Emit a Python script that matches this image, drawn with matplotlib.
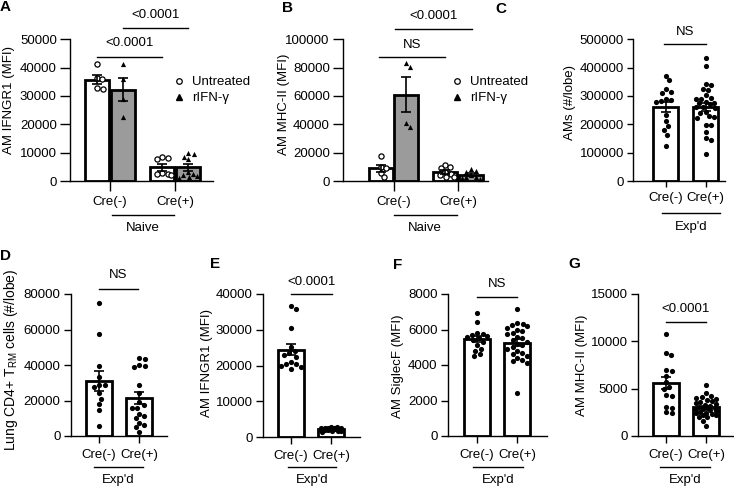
import numpy as np
import matplotlib
matplotlib.use("Agg")
import matplotlib.pyplot as plt
from matplotlib.lines import Line2D
from matplotlib.transforms import blended_transform_factory

plt.rcParams["font.family"] = ["Liberation Sans", "DejaVu Sans"]
plt.rcParams["mathtext.fontset"] = "custom"
plt.rcParams["mathtext.rm"] = "Liberation Sans"
plt.rcParams["font.size"] = 9.5

# ---- data (mean +/- SEM computed from the points) ----
groups = ["Cre(-)", "Cre(+)"]

a_neg_untreated = [41200, 36500, 36000, 32700, 32500]
a_neg_rifn = [41200, 36000, 28800, 22700]
a_pos_untreated = [8300, 8200, 7800, 2800, 2500, 2300, 2000]
a_pos_rifn = [9800, 9500, 8600, 7600, 3000, 2500, 2200, 1800, 1500, 1200]

b_neg_untreated = [17500, 10000, 9500, 5500, 2500]
b_neg_rifn = [83500, 80500, 41000, 38000]
b_pos_untreated = [11500, 10000, 9000, 6000, 5000, 4000, 3000, 2500]
b_pos_rifn = [8500, 7000, 6500, 4000, 3000, 2500, 2000, 1500]

c_neg = [372000, 357000, 324000, 315000, 309000, 290000, 285000, 282000,
         280000, 233000, 213000, 195000, 180000, 162000, 125000]
c_pos = [433000, 407000, 341000, 338000, 324000, 320000, 302000, 292000,
         290000, 288000, 278000, 276000, 274000, 272000, 262000, 260000,
         258000, 245000, 240000, 228000, 226000, 224000, 198000, 196000,
         174000, 150000, 146000, 95000]

d_neg = [75000, 57500, 39500, 33000, 29000, 28500, 27500, 24000, 21000,
         18000, 14500, 5500]
d_pos = [44000, 43500, 40000, 39500, 39000, 28500, 24000, 19000, 17500,
         16000, 15500, 12500, 11000, 10000, 7500, 6000, 5000, 2500]

e_neg = [36600, 35700, 30500, 25200, 24000, 23500, 23000, 22500, 21000,
         20500, 20300, 20000, 19500, 19000]
e_pos = [2800, 2700, 2600, 2500, 2500, 2400, 2400, 2300, 2300, 2200, 2200,
         2100, 2100, 2000, 2000, 1900, 1800, 1700, 1600, 1500]

f_neg = [6950, 6400, 5800, 5750, 5700, 5650, 5600, 5500, 5400, 5300, 5100,
         4900, 4800, 4600, 4500]
f_pos = [7150, 6350, 6300, 6250, 6200, 6100, 6000, 5900, 5800, 5750, 5600,
         5500, 5400, 5300, 5200, 5100, 5000, 4900, 4800, 4700, 4600, 4500,
         4400, 4300, 4200, 4100, 2400]

g_neg = [10800, 8800, 8600, 7000, 6900, 6300, 5700, 5200, 5000, 4300, 4200,
         3100, 3000, 2500, 2400]
g_pos = [5400, 4500, 4200, 4100, 4000, 3900, 3800, 3700, 3600, 3500, 3400,
         3300, 3200, 3100, 3000, 3000, 2900, 2800, 2700, 2600, 2500, 2400,
         2300, 2200, 2000, 2400, 2200, 2000, 1600, 1100]

W, H = 734, 487
fig = plt.figure(figsize=(W / 100, H / 100), dpi=100)
GRAY = "#9b9b9b"


def make_axes(left, right, top, bottom, c0, c1, ymax, ystep, tick_len, xpad):
    ax = fig.add_axes([left / W, 1 - bottom / H, (right - left) / W, (bottom - top) / H])
    unit = c1 - c0
    ax.set_xlim((left - c0) / unit, (right - c0) / unit)
    ax.set_ylim(0, ymax)
    ticks = np.arange(0, ymax + 1, ystep)
    ax.set_yticks(ticks)
    ax.set_yticklabels([str(int(t)) for t in ticks])
    ax.set_xticks([0, 1])
    ax.set_xticklabels(groups)
    for s in ["top", "right"]:
        ax.spines[s].set_visible(False)
    for s in ["left", "bottom"]:
        ax.spines[s].set_linewidth(1.0)
    ax.tick_params(axis="both", direction="out", length=tick_len, width=1.0,
                   labelsize=9.5, pad=2.5)
    ax.tick_params(axis="x", pad=xpad)
    ax._xpx = unit
    ax._ypx = (bottom - top) / ymax
    return ax


def swarm(values, ypx, xpx, lim, d=5.6):
    # simple bounded beeswarm, worked out in pixels
    ys = np.asarray(values, dtype=float) * ypx
    order = np.argsort(-ys)
    placed = []
    offs = np.zeros(len(ys))
    for i in order:
        y = ys[i]
        cands = [0.0]
        for xj, yj in placed:
            dy = abs(y - yj)
            if dy < d:
                dx = np.sqrt(d * d - dy * dy)
                cands += [xj + dx, xj - dx]
        cands = sorted([c for c in cands if abs(c) <= lim], key=abs)
        chosen = None
        for c in cands:
            if all((c - xj) ** 2 + (y - yj) ** 2 >= d * d - 1e-6 for xj, yj in placed):
                chosen = c
                break
        if chosen is None:
            grid = np.linspace(-lim, lim, 15)
            score = [min((g - xj) ** 2 + (y - yj) ** 2 for xj, yj in placed) for g in grid]
            chosen = grid[int(np.argmax(score))]
        offs[i] = chosen
        placed.append((chosen, y))
    return offs / xpx


def bar_group(ax, pos, vals, color, width_px, marker, open_marker=False):
    vals = np.asarray(vals, dtype=float)
    m = vals.mean()
    sem = vals.std(ddof=1) / np.sqrt(len(vals))
    w = width_px / ax._xpx
    ax.bar(pos, m, w, color=color, edgecolor="black", linewidth=2.0, zorder=2)
    xs = pos + swarm(vals, ax._ypx, ax._xpx, width_px / 2 - 3)
    if open_marker:
        ax.scatter(xs, vals, s=14, marker=marker, facecolor="white",
                   edgecolor="black", linewidth=0.9, zorder=3, clip_on=False)
    else:
        ax.scatter(xs, vals, s=14, marker=marker, color="black",
                   linewidth=0, zorder=3, clip_on=False)
    ax.errorbar(pos, m, yerr=sem, color="black", elinewidth=1.2, capsize=3.5,
                capthick=1.2, zorder=4, fmt="none")


def sig(ax, x1, x2, y_line, y_text, label):
    ax.plot([x1, x2], [y_line, y_line], color="black", lw=1.0, clip_on=False)
    ax.text((x1 + x2) / 2, y_text, label, ha="center", va="center", fontsize=9.5)


def group_label(ax, x1, x2, y_line_px, y_text_px, label):
    tr = blended_transform_factory(ax.transData, fig.transFigure)
    ax.plot([x1, x2], [1 - y_line_px / H] * 2, color="black", lw=1.0,
            transform=tr, clip_on=False)
    ax.text((x1 + x2) / 2, 1 - y_text_px / H, label, transform=tr,
            ha="center", va="center", fontsize=9.5)


def ylabel(x_px, y_px, label, size=9.5):
    fig.text(x_px / W, 1 - y_px / H, label, rotation=90, ha="center",
             va="center", fontsize=size)


def letter(x_px, y_px, label):
    fig.text(x_px / W, 1 - y_px / H, label, ha="left", va="center",
             fontsize=11, fontweight="bold")


legend_handles = [
    Line2D([], [], ls="", marker="o", mfc="white", mec="black", mew=0.9, ms=4),
    Line2D([], [], ls="", marker="^", color="black", ms=4),
]
legend_labels = ["Untreated", "rIFN-\u03b3"]


def legend_at(x_px, y_px):
    fig.legend(legend_handles, legend_labels, loc="upper left",
               bbox_to_anchor=(x_px / W, 1 - y_px / H), frameon=False,
               handlelength=1.0, handletextpad=0.55, labelspacing=0.28,
               borderpad=0, borderaxespad=0, fontsize=9.5)


# ---- A ----
ax = make_axes(70, 213, 39.3, 181, 110, 175, 50000, 10000, 7, 4)
bar_group(ax, -0.2, a_neg_untreated, "white", 24, "o", True)
bar_group(ax, 0.2, a_neg_rifn, GRAY, 24, "^")
bar_group(ax, 0.8, a_pos_untreated, "white", 24, "o", True)
bar_group(ax, 1.2, a_pos_rifn, GRAY, 24, "^")
sig(ax, -0.2, 0.8, 43900, 48700, "<0.0001")
sig(ax, 0.2, 1.2, 54100, 58600, "<0.0001")
group_label(ax, 0.03, 0.98, 215, 228, "Naive")
legend_at(172, 76)
ylabel(9, 100, "AM IFNGR1 (MFI)")
letter(0, 7, "A")

# ---- B ----
ax = make_axes(343, 488, 39.3, 181, 393.5, 458, 100000, 20000, 7, 4)
bar_group(ax, -0.2, b_neg_untreated, "white", 24, "o", True)
bar_group(ax, 0.2, b_neg_rifn, GRAY, 24, "^")
bar_group(ax, 0.8, b_pos_untreated, "white", 24, "o", True)
bar_group(ax, 1.2, b_pos_rifn, GRAY, 24, "^")
sig(ax, -0.22, 0.8, 87500, 96000, "NS")
sig(ax, 0.02, 1.22, 107300, 116500, "<0.0001")
group_label(ax, 0.0, 0.98, 215, 228, "Naive")
legend_at(450, 76)
ylabel(284, 104, "AM MHC-II (MFI)")
letter(282, 8, "B")

# ---- C ----
ax = make_axes(633, 725, 39.3, 181, 665.7, 705.7, 500000, 100000, 4, 4)
bar_group(ax, 0, c_neg, "white", 25, "o")
bar_group(ax, 1, c_pos, "white", 25, "o")
sig(ax, -0.04, 1.0, 482000, 526800, "NS")
group_label(ax, -0.1, 1.36, 212.5, 226.7, "Exp'd")
ylabel(570, 102, "AMs (#/lobe)")
letter(495, 9, "C")

# ---- D ----
ax = make_axes(71, 167, 294, 436, 99, 139, 80000, 20000, 5, 4.5)
bar_group(ax, 0, d_neg, "white", 26, "o")
bar_group(ax, 1, d_pos, "white", 26, "o")
sig(ax, 0, 0.97, 82600, 90700, "NS")
group_label(ax, -0.125, 1.1, 466.7, 480, "Exp'd")
ylabel(11, 360, r"Lung CD4+ T$_{\mathrm{RM}}$ cells (#/lobe)", size=10)
letter(0, 256, "D")

# ---- E ----
ax = make_axes(263, 360, 294, 437, 291, 331, 40000, 10000, 5, 4.5)
bar_group(ax, 0, e_neg, "white", 26, "o")
bar_group(ax, 1, e_pos, "white", 26, "o")
sig(ax, 0, 1.02, 40000, 43400, "<0.0001")
group_label(ax, -0.075, 1.125, 466.7, 480, "Exp'd")
ylabel(207, 363, "AM IFNGR1 (MFI)")
letter(210, 264, "E")

# ---- F ----
ax = make_axes(448, 547, 294, 436, 477, 517, 8000, 2000, 5, 4.5)
bar_group(ax, 0, f_neg, "white", 26, "o")
bar_group(ax, 1, f_pos, "white", 26, "o")
sig(ax, 0, 0.99, 7810, 8550, "NS")
group_label(ax, -0.09, 1.16, 466.7, 480, "Exp'd")
ylabel(398, 366, "AM SiglecF (MFI)")
letter(393, 265, "F")

# ---- G ----
ax = make_axes(638, 733, 294, 436, 666, 706, 15000, 5000, 5, 4.5)
bar_group(ax, 0, g_neg, "white", 26, "o")
bar_group(ax, 1, g_pos, "white", 26, "o")
sig(ax, 0, 1.0, 12040, 13400, "<0.0001")
group_label(ax, -0.15, 1.1, 466.7, 480, "Exp'd")
ylabel(582, 365, "AM MHC-II (MFI)")
letter(568, 264, "G")

fig.savefig("out.png", dpi=100)
